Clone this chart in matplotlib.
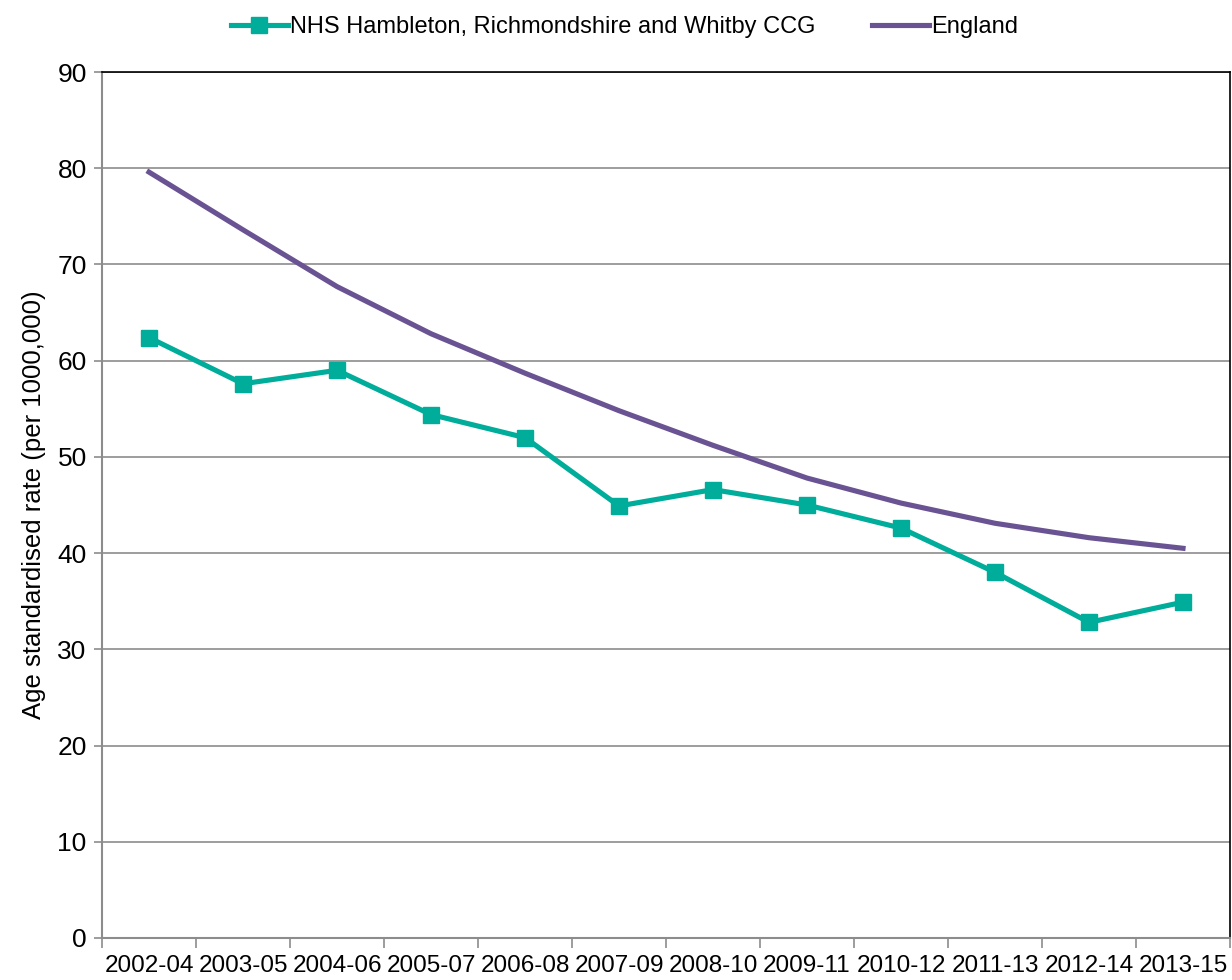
import matplotlib
matplotlib.use("Agg")
import matplotlib.pyplot as plt
import numpy as np

periods = ["2002-04", "2003-05", "2004-06", "2005-07", "2006-08", "2007-09",
           "2008-10", "2009-11", "2010-12", "2011-13", "2012-14", "2013-15"]
ccg = [62.4, 57.6, 59.0, 54.4, 52.0, 44.9, 46.6, 45.0, 42.6, 38.0, 32.8, 34.9]
england = [79.6, 73.6, 67.7, 62.8, 58.7, 54.8, 51.2, 47.8, 45.2, 43.1, 41.6, 40.5]

plt.rcParams['font.family'] = ['Liberation Sans', 'DejaVu Sans']

fig = plt.figure(figsize=(12.32, 9.8), dpi=100)
ax = fig.add_axes([0.0828, 0.0429, 0.9156, 0.8836])

x = np.arange(len(periods))
ax.plot(x, ccg, color='#00AC9A', lw=3.7, marker='s', markersize=12,
        label='NHS Hambleton, Richmondshire and Whitby CCG', zorder=3)
ax.plot(x, england, color='#6A5392', lw=3.7, label='England', zorder=3)

ax.set_xlim(-0.5, len(periods) - 0.5)
ax.set_ylim(0, 90)
ax.set_yticks(range(0, 91, 10))
ax.yaxis.grid(True, color='#8c8c8c', lw=1.2)
ax.set_axisbelow(True)

# category labels centred, tick marks between categories
ax.set_xticks(x)
ax.set_xticklabels(periods, fontsize=17.5)
ax.tick_params(axis='x', which='major', length=0, pad=12)
ax.set_xticks(np.arange(-0.5, len(periods)), minor=True)
ax.tick_params(axis='x', which='minor', length=7, color='#8c8c8c', width=1.2)
ax.tick_params(axis='y', labelsize=19, length=6, color='#8c8c8c', width=1.2, pad=5)

for s in ['left', 'bottom']:
    ax.spines[s].set_color('#8c8c8c')
    ax.spines[s].set_linewidth(1.5)
for s in ['top', 'right']:
    ax.spines[s].set_color('black')
    ax.spines[s].set_linewidth(1.2)

ax.set_ylabel('Age standardised rate (per 1000,000)', fontsize=18.5, labelpad=8)

fig.legend(loc='upper center', bbox_to_anchor=(0.507, 1.005), ncol=2, frameon=False,
           fontsize=17, handlelength=2.4, handletextpad=0.1, columnspacing=2.4)

fig.savefig('out.png', dpi=100)
